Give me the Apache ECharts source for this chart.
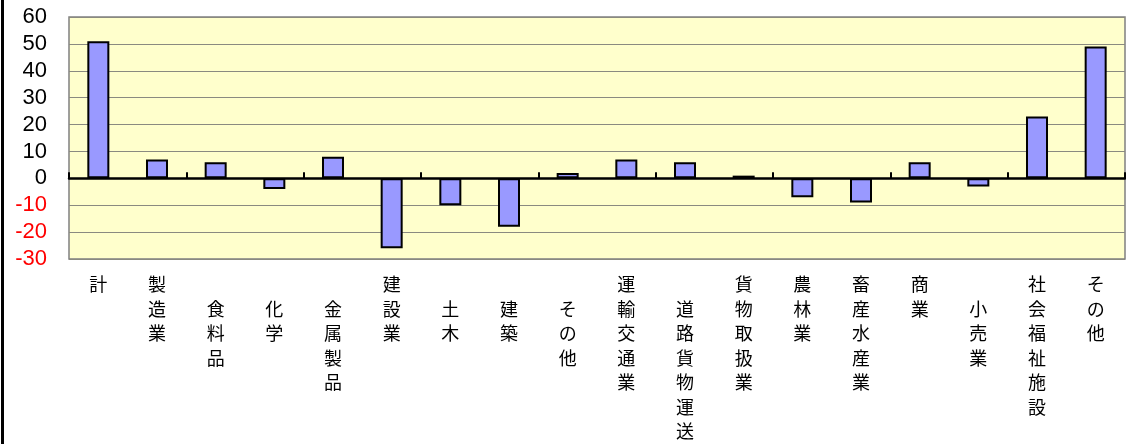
<!DOCTYPE html>
<html>
<head>
<meta charset="utf-8">
<script src="https://cdn.jsdelivr.net/npm/echarts@6/dist/echarts.min.js"></script>
<style>
html,body{margin:0;padding:0;background:#fff;}
#c{width:1126px;height:444px;}
</style>
</head>
<body>
<div id="c"></div>
<script>
const categories = ['計','製造業','食料品','化学','金属製品','建設業','土木','建築','その他','運輸交通業','道路貨物運送','貨物取扱業','農林業','畜産水産業','商業','小売業','社会福祉施設','その他'];
const levels = [1,1,2,2,2,1,2,2,2,1,2,1,1,1,1,2,1,1];
const values = [51,7,6,-4,8,-26,-10,-18,2,7,6,1,-7,-9,6,-3,23,49];
const yTicks = {min:-30, max:60, interval:10};

const chart = echarts.init(document.getElementById('c'));
chart.setOption({
  animation:false,
  graphic:[{type:'line',shape:{x1:2.5,y1:0,x2:2.5,y2:444},style:{stroke:'#000',lineWidth:3}}],
  grid:{left:69,right:1,top:17,bottom:185,show:true,backgroundColor:'#FFFFCC',borderColor:'#808080',borderWidth:1.5},
  xAxis:[{
    type:'category',data:categories,position:'bottom',
    axisLine:{show:false,onZero:false},axisTick:{show:false},
    axisLabel:{interval:0,margin:13,color:'#000',fontSize:18,lineHeight:24.5,fontFamily:'Noto Sans CJK JP',verticalAlign:'top',
      formatter:function(v,i){const s=v.split('').join('\n');return (levels[i]===2?' \n':'')+s;}}
  },{
    type:'category',data:categories,position:'bottom',
    axisLine:{show:true,onZero:true,lineStyle:{color:'#000',width:2.5}},
    axisTick:{show:true,inside:false,length:-6,lineStyle:{color:'#000',width:2}},
    axisLabel:{show:false},splitLine:{show:false}
  }],
  yAxis:{
    type:'value',min:yTicks.min,max:yTicks.max,interval:yTicks.interval,
    axisLine:{show:false},axisTick:{show:false},
    splitLine:{show:true,lineStyle:{color:'#8a8a80',width:1.2}},
    axisLabel:{margin:22,fontSize:22,fontFamily:'Liberation Sans',
      color:function(v){return v<0?'#FF0000':'#000';}}
  },
  series:[{
    type:'bar',data:values,xAxisIndex:0,barWidth:22,
    itemStyle:{color:'#9999FF',borderColor:'#000',borderWidth:2}
  }]
});
</script>
</body>
</html>
